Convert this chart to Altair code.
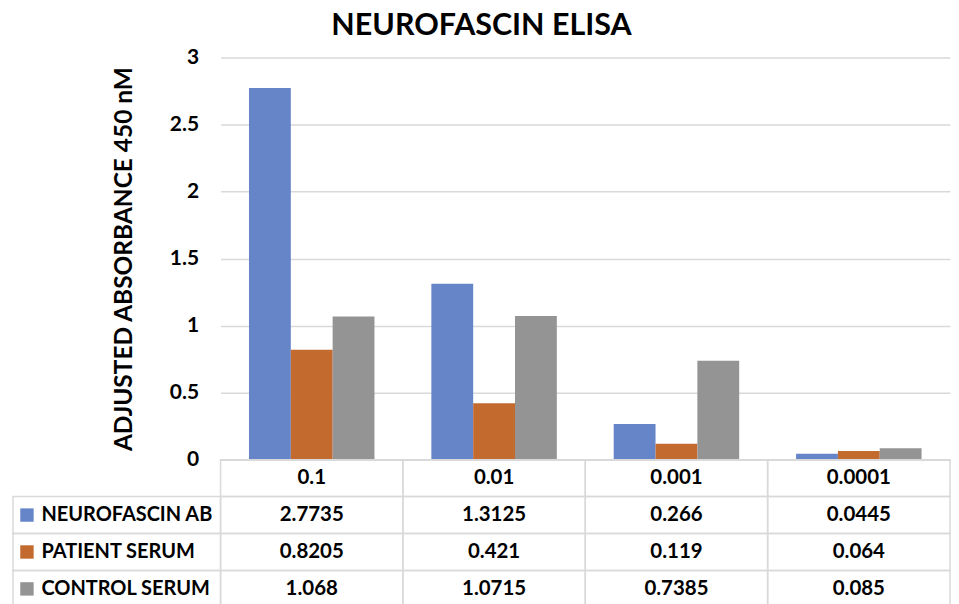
import altair as alt
import pandas as pd

categories = ["0.1", "0.01", "0.001", "0.0001"]
series = ["NEUROFASCIN AB", "PATIENT SERUM", "CONTROL SERUM"]
neurofascin_ab = [2.7735, 1.3125, 0.266, 0.0445]
patient_serum = [0.8205, 0.421, 0.119, 0.064]
control_serum = [1.068, 1.0715, 0.7385, 0.085]
colors = ["#6685C8", "#C36A2F", "#949494"]
y_ticks = [0, 0.5, 1, 1.5, 2, 2.5, 3]

FONT = "Lato"
GRID = "#d9d9d9"
W = 731
H = 403
ROW_H = 37
ROWS = ["_hdr"] + series
LEFT = 208  # width of the row-label column of the data table

values = {s: v for s, v in zip(series, [neurofascin_ab, patient_serum, control_serum])}
df = pd.DataFrame(
    [{"dilution": c, "series": s, "value": values[s][i]}
     for s in series for i, c in enumerate(categories)]
)

tbl = pd.DataFrame(
    [{"dilution": c, "row": "_hdr", "text": c} for c in categories]
    + [{"dilution": c, "row": s, "text": str(values[s][i])}
       for s in series for i, c in enumerate(categories)]
)
series_df = pd.DataFrame({"row": series, "series": series})

xscale = alt.Scale(domain=categories, paddingInner=0, paddingOuter=0)
cscale = alt.Scale(domain=series, range=colors)

bars = alt.Chart(df).mark_bar().encode(
    x=alt.X("dilution:N", sort=categories, scale=xscale, axis=None),
    xOffset=alt.XOffset("series:N", sort=series,
                        scale=alt.Scale(domain=series, paddingInner=0, paddingOuter=0.68)),
    y=alt.Y("value:Q", scale=alt.Scale(domain=[0, 3], nice=False),
            axis=alt.Axis(values=y_ticks, format=".1~f", title="ADJUSTED ABSORBANCE 450 nM",
                          titleFont=FONT, titleFontSize=24.5, titleFontWeight="bold", titleColor="#000",
                          titlePadding=33,
                          labelFont=FONT, labelFontSize=21, labelFontWeight="bold", labelColor="#000",
                          labelPadding=22, ticks=False, tickSize=0, domain=False,
                          grid=True, gridColor=GRID, gridWidth=1.5)),
    color=alt.Color("series:N", sort=series, scale=cscale, legend=None),
).properties(width=W, height=H)

ybase = alt.Y("row:N", sort=ROWS, scale=alt.Scale(domain=ROWS, paddingInner=0, paddingOuter=0),
              axis=alt.Axis(labelExpr="datum.value == '_hdr' ? '' : datum.value",
                            labelAlign="left", labelPadding=LEFT - 28, tickSize=0, ticks=False,
                            domain=False, grid=False, title=None,
                            labelFont=FONT, labelFontSize=20, labelFontWeight="bold", labelColor="#000"))

cells = alt.Chart(tbl).mark_rect(fill="transparent", stroke=GRID, strokeWidth=1.5).encode(
    x=alt.X("dilution:N", sort=categories, scale=xscale, axis=None),
    y=ybase,
)

label_cells = alt.Chart(series_df).mark_rect(fill="transparent", stroke=GRID, strokeWidth=1.5).encode(
    y=alt.Y("row:N", sort=ROWS),
    x=alt.value(-LEFT),
    x2=alt.value(0),
)

cell_text = alt.Chart(tbl).mark_text(font=FONT, fontSize=20.5, fontWeight="bold", color="#000").encode(
    x=alt.X("dilution:N", sort=categories, scale=xscale, axis=None),
    y=alt.Y("row:N", sort=ROWS),
    text="text:N",
)

swatches = alt.Chart(series_df).mark_square(size=180, opacity=1).encode(
    y=alt.Y("row:N", sort=ROWS),
    x=alt.value(-LEFT + 14),
    color=alt.Color("series:N", sort=series, scale=cscale, legend=None),
)

table = alt.layer(cells, label_cells, cell_text, swatches).properties(width=W, height=ROW_H * 4)

chart = alt.vconcat(bars, table, spacing=0, bounds="flush").properties(
    title=alt.TitleParams("NEUROFASCIN ELISA", font=FONT, fontSize=30.5, fontWeight="bold",
                          color="#000", anchor="middle", offset=5),
    padding={"left": 4, "top": 2, "right": 0, "bottom": 0},
).configure_view(stroke=None)

chart.save("out.html", embed_options={"renderer": "svg", "actions": False})
